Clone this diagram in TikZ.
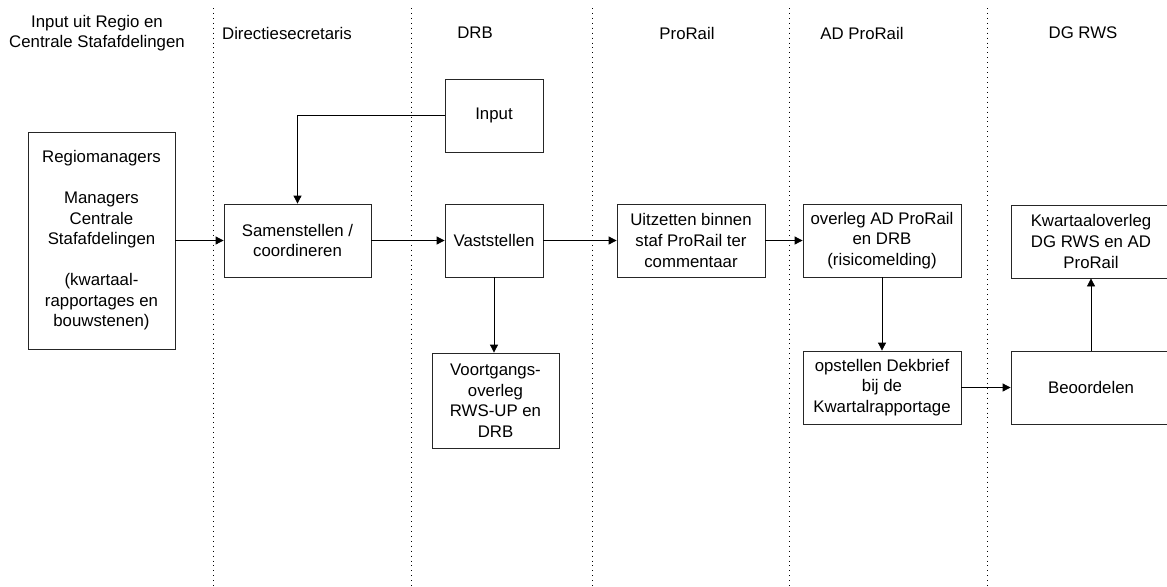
\documentclass[tikz,border=0pt]{standalone}
\usepackage{fontspec}
\setmainfont{Liberation Sans}
\usetikzlibrary{arrows.meta}
\tikzset{
    stepbox/.style = {rectangle, draw=black!85, line width=0.6pt, align=center, inner sep=1pt, font=\fontsize{12.6}{15.4}\selectfont},
    lanetitle/.style = {align=center, inner sep=0pt, font=\fontsize{12.6}{14.6}\selectfont},
    lane/.style = {line width=0.7pt, dash pattern=on 0.7pt off 3pt},
    flow/.style = {-{Triangle[length=6pt,width=6pt]}, line width=0.6pt}, % process step
}

\begin{document}
\begin{tikzpicture}[x=0.75pt, y=-0.75pt]
    \useasboundingbox (0,0) rectangle (1167,586);

    % swimlanes
    \foreach \x in {213,411,592,789,987}
        \draw[lane] (\x,8) -- (\x,586);

    \node[lanetitle] (tregio) at (97,33) {Input uit Regio en\\Centrale Stafafdelingen};
    \node[lanetitle] (tsecr) at (287,33) {Directiesecretaris};
    \node[lanetitle] (tdrb) at (475,33) {DRB};
    \node[lanetitle] (tprorail) at (687,33) {ProRail};
    \node[lanetitle] (tad) at (862,33) {AD ProRail};
    \node[lanetitle] (tdg) at (1083,33) {DG RWS};

    % steps
    \node[stepbox, minimum width=110.25pt, minimum height=162.75pt] (regio) at (101.5,240.5)
        {Regiomanagers\\[15.4pt]Managers\\Centrale\\Stafafdelingen\\[15.4pt](kwartaal-\\rapportages en\\bouwstenen)};
    \node[stepbox, minimum width=110.25pt, minimum height=54.75pt] (samen) at (297.5,240.5)
        {Samenstellen /\\coordineren};
    \node[stepbox, minimum width=73.5pt, minimum height=54.75pt] (input) at (494,115.5) {Input};
    \node[stepbox, minimum width=73.5pt, minimum height=54.75pt] (vast) at (494,240.5) {Vaststellen};
    \node[stepbox, minimum width=95.25pt, minimum height=71.25pt] (voortgang) at (495.5,400.5)
        {Voortgangs-\\overleg\\RWS-UP en\\DRB};
    \node[stepbox, minimum width=111pt, minimum height=54.75pt] (uitzetten) at (691,240.5)
        {Uitzetten binnen\\staf ProRail ter\\commentaar};
    \node[stepbox, minimum width=118.5pt, minimum height=54.75pt] (overleg) at (882,240.5)
        {overleg AD ProRail\\en DRB\\(risicomelding)};
    \node[stepbox, minimum width=118.5pt, minimum height=54.75pt] (opstellen) at (882,387.5)
        {opstellen Dekbrief\\bij de\\Kwartalrapportage};
    \node[stepbox, minimum width=120pt, minimum height=54.75pt] (kwartaal) at (1091,241.5)
        {Kwartaaloverleg\\DG RWS en AD\\ProRail};
    \node[stepbox, minimum width=120pt, minimum height=54.75pt] (beoordelen) at (1091,387.5) {Beoordelen};

    % flow
    \draw[flow] (regio) -- (samen);
    \draw[flow] (input.west) -| (samen.north);
    \draw[flow] (samen) -- (vast);
    \draw[flow] (vast) -- (uitzetten);
    \draw[flow] (vast.south) -- (voortgang.north -| vast.south);
    \draw[flow] (uitzetten) -- (overleg);
    \draw[flow] (overleg) -- (opstellen);
    \draw[flow] (opstellen) -- (beoordelen);
    \draw[flow] (beoordelen) -- (kwartaal);

\end{tikzpicture}
\end{document}
